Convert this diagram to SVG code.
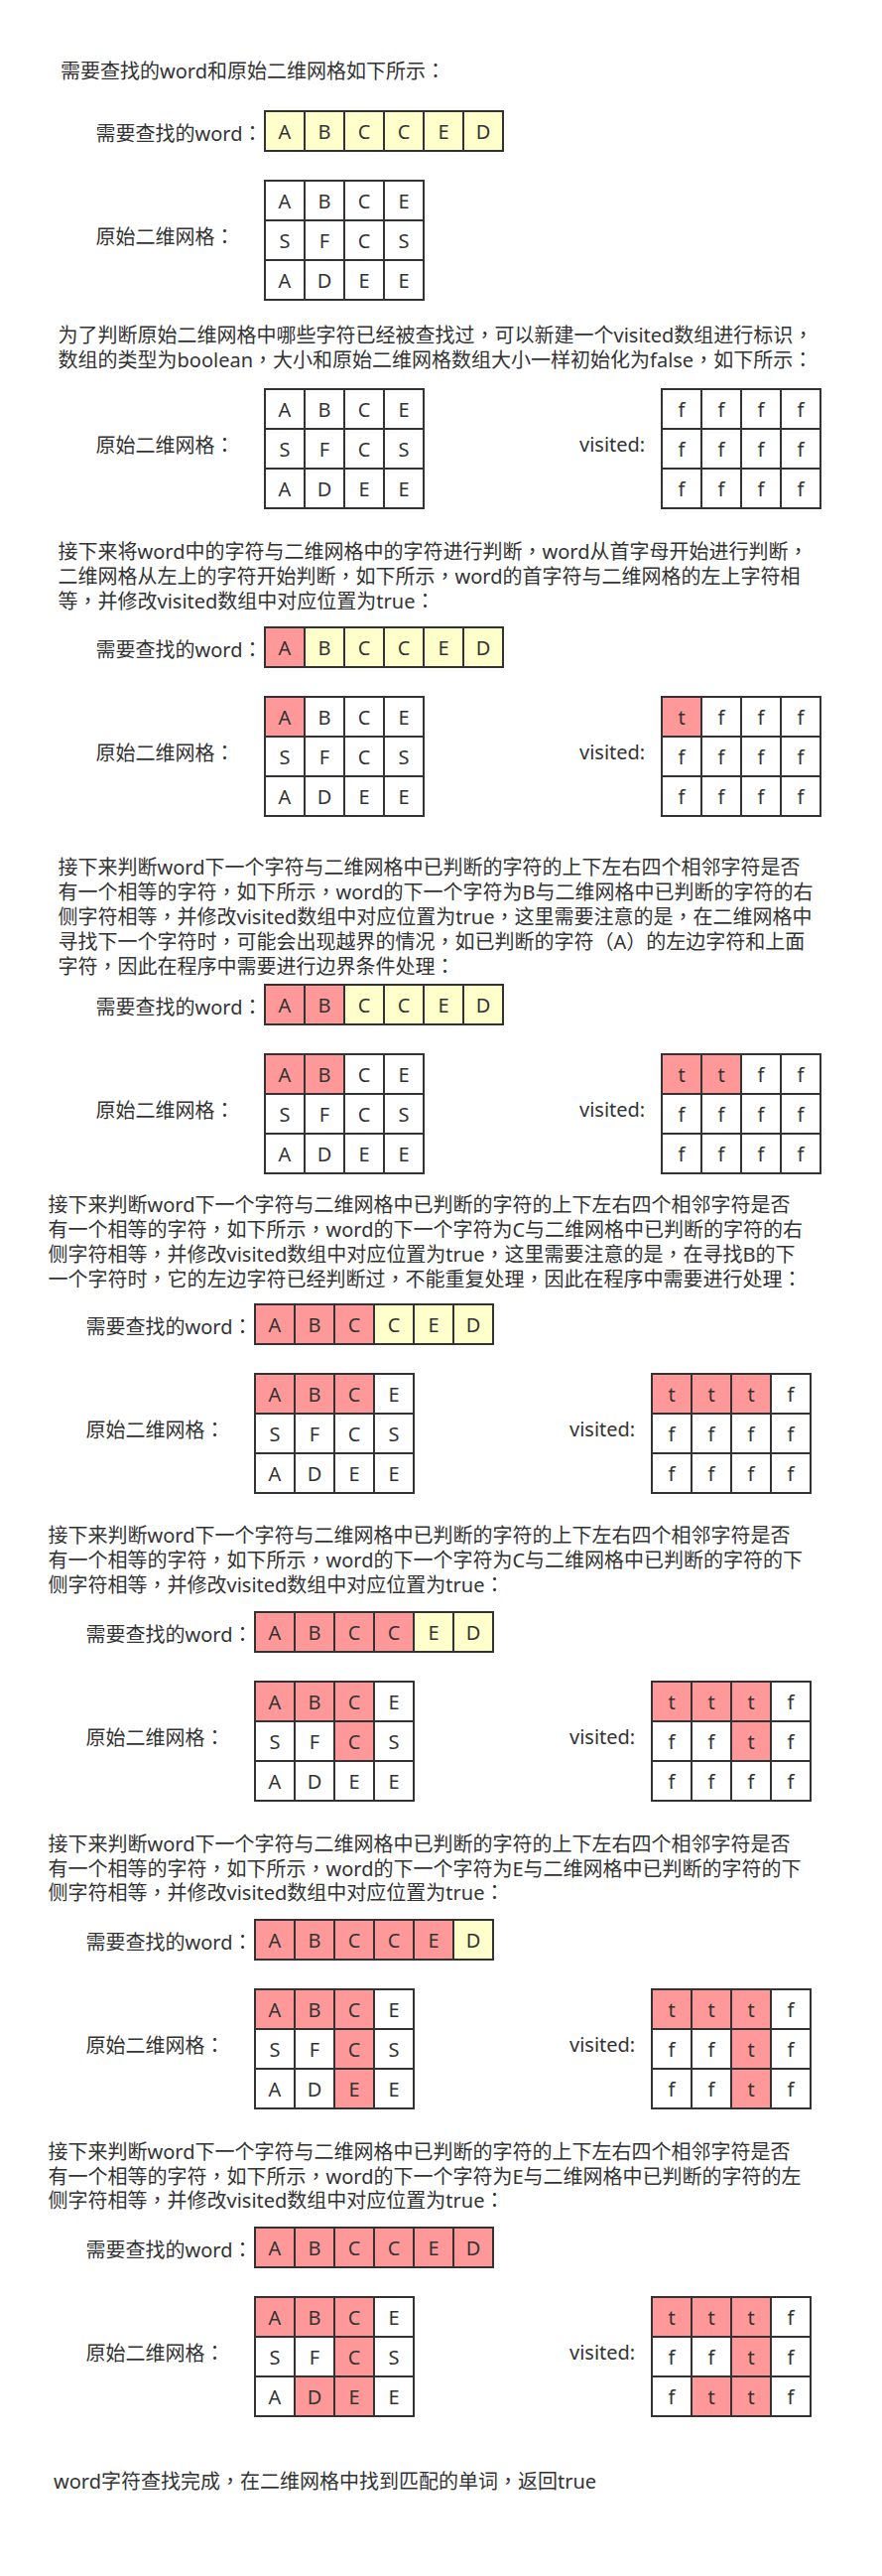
<svg xmlns="http://www.w3.org/2000/svg" width="889" height="2595" viewBox="0 0 889 2595">
<style>
text{font-family:"Noto Sans","Noto Sans CJK SC",sans-serif;font-size:20px;fill:#333}
.p{font-family:"Noto Sans CJK TC","Noto Sans CJK SC",sans-serif}
.c{text-anchor:middle}
.y,.r,.w{stroke:#333;stroke-width:2}
.y{fill:#ffffcc}.r{fill:#ff9999}.w{fill:#ffffff}
</style>
<rect x="0" y="0" width="889" height="2595" fill="#ffffff"/>

<!-- Section 1 -->
<g id="section1">
<text x="61" y="79">需要查找的word和原始二维网格如下所示<tspan class="p">：</tspan></text>
<text x="96.5" y="142">需要查找的word<tspan class="p">：</tspan></text>
<g id="s1-word" transform="translate(267,112)">
<rect class="y" x="0" y="0" width="40" height="40"/><rect class="y" x="40" y="0" width="40" height="40"/><rect class="y" x="80" y="0" width="40" height="40"/><rect class="y" x="120" y="0" width="40" height="40"/><rect class="y" x="160" y="0" width="40" height="40"/><rect class="y" x="200" y="0" width="40" height="40"/>
<text class="c" x="20" y="27.5">A</text><text class="c" x="60" y="27.5">B</text><text class="c" x="100" y="27.5">C</text><text class="c" x="140" y="27.5">C</text><text class="c" x="180" y="27.5">E</text><text class="c" x="220" y="27.5">D</text>
</g>
<text x="96.5" y="246">原始二维网格<tspan class="p">：</tspan></text>
<g id="s1-grid" transform="translate(267,182)">
<rect class="w" x="0" y="0" width="40" height="40"/><rect class="w" x="40" y="0" width="40" height="40"/><rect class="w" x="80" y="0" width="40" height="40"/><rect class="w" x="120" y="0" width="40" height="40"/>
<rect class="w" x="0" y="40" width="40" height="40"/><rect class="w" x="40" y="40" width="40" height="40"/><rect class="w" x="80" y="40" width="40" height="40"/><rect class="w" x="120" y="40" width="40" height="40"/>
<rect class="w" x="0" y="80" width="40" height="40"/><rect class="w" x="40" y="80" width="40" height="40"/><rect class="w" x="80" y="80" width="40" height="40"/><rect class="w" x="120" y="80" width="40" height="40"/>
<text class="c" x="20" y="27.5">A</text><text class="c" x="60" y="27.5">B</text><text class="c" x="100" y="27.5">C</text><text class="c" x="140" y="27.5">E</text>
<text class="c" x="20" y="67.5">S</text><text class="c" x="60" y="67.5">F</text><text class="c" x="100" y="67.5">C</text><text class="c" x="140" y="67.5">S</text>
<text class="c" x="20" y="107.5">A</text><text class="c" x="60" y="107.5">D</text><text class="c" x="100" y="107.5">E</text><text class="c" x="140" y="107.5">E</text>
</g>
</g>

<!-- Section 2 -->
<g id="section2">
<text x="58.5" y="345">为了判断原始二维网格中哪些字符已经被查找过<tspan class="p">，</tspan>可以新建一个visited数组进行标识<tspan class="p">，</tspan></text>
<text x="58.5" y="370">数组的类型为boolean<tspan class="p">，</tspan>大小和原始二维网格数组大小一样初始化为false<tspan class="p">，</tspan>如下所示<tspan class="p">：</tspan></text>
<text x="96.5" y="456">原始二维网格<tspan class="p">：</tspan></text>
<g id="s2-grid" transform="translate(267,392)">
<rect class="w" x="0" y="0" width="40" height="40"/><rect class="w" x="40" y="0" width="40" height="40"/><rect class="w" x="80" y="0" width="40" height="40"/><rect class="w" x="120" y="0" width="40" height="40"/>
<rect class="w" x="0" y="40" width="40" height="40"/><rect class="w" x="40" y="40" width="40" height="40"/><rect class="w" x="80" y="40" width="40" height="40"/><rect class="w" x="120" y="40" width="40" height="40"/>
<rect class="w" x="0" y="80" width="40" height="40"/><rect class="w" x="40" y="80" width="40" height="40"/><rect class="w" x="80" y="80" width="40" height="40"/><rect class="w" x="120" y="80" width="40" height="40"/>
<text class="c" x="20" y="27.5">A</text><text class="c" x="60" y="27.5">B</text><text class="c" x="100" y="27.5">C</text><text class="c" x="140" y="27.5">E</text>
<text class="c" x="20" y="67.5">S</text><text class="c" x="60" y="67.5">F</text><text class="c" x="100" y="67.5">C</text><text class="c" x="140" y="67.5">S</text>
<text class="c" x="20" y="107.5">A</text><text class="c" x="60" y="107.5">D</text><text class="c" x="100" y="107.5">E</text><text class="c" x="140" y="107.5">E</text>
</g>
<text x="584" y="455">visited:</text>
<g id="s2-visited" transform="translate(667,392)">
<rect class="w" x="0" y="0" width="40" height="40"/><rect class="w" x="40" y="0" width="40" height="40"/><rect class="w" x="80" y="0" width="40" height="40"/><rect class="w" x="120" y="0" width="40" height="40"/>
<rect class="w" x="0" y="40" width="40" height="40"/><rect class="w" x="40" y="40" width="40" height="40"/><rect class="w" x="80" y="40" width="40" height="40"/><rect class="w" x="120" y="40" width="40" height="40"/>
<rect class="w" x="0" y="80" width="40" height="40"/><rect class="w" x="40" y="80" width="40" height="40"/><rect class="w" x="80" y="80" width="40" height="40"/><rect class="w" x="120" y="80" width="40" height="40"/>
<text class="c" x="20" y="27.5">f</text><text class="c" x="60" y="27.5">f</text><text class="c" x="100" y="27.5">f</text><text class="c" x="140" y="27.5">f</text>
<text class="c" x="20" y="67.5">f</text><text class="c" x="60" y="67.5">f</text><text class="c" x="100" y="67.5">f</text><text class="c" x="140" y="67.5">f</text>
<text class="c" x="20" y="107.5">f</text><text class="c" x="60" y="107.5">f</text><text class="c" x="100" y="107.5">f</text><text class="c" x="140" y="107.5">f</text>
</g>
</g>

<!-- Section 3 -->
<g id="section3">
<text x="58.5" y="562.5">接下来将word中的字符与二维网格中的字符进行判断<tspan class="p">，</tspan>word从首字母开始进行判断<tspan class="p">，</tspan></text>
<text x="58.5" y="587.5">二维网格从左上的字符开始判断<tspan class="p">，</tspan>如下所示<tspan class="p">，</tspan>word的首字符与二维网格的左上字符相</text>
<text x="58.5" y="612.5">等<tspan class="p">，</tspan>并修改visited数组中对应位置为true<tspan class="p">：</tspan></text>
<text x="96.5" y="662">需要查找的word<tspan class="p">：</tspan></text>
<g id="s3-word" transform="translate(267,632)">
<rect class="r" x="0" y="0" width="40" height="40"/><rect class="y" x="40" y="0" width="40" height="40"/><rect class="y" x="80" y="0" width="40" height="40"/><rect class="y" x="120" y="0" width="40" height="40"/><rect class="y" x="160" y="0" width="40" height="40"/><rect class="y" x="200" y="0" width="40" height="40"/>
<text class="c" x="20" y="27.5">A</text><text class="c" x="60" y="27.5">B</text><text class="c" x="100" y="27.5">C</text><text class="c" x="140" y="27.5">C</text><text class="c" x="180" y="27.5">E</text><text class="c" x="220" y="27.5">D</text>
</g>
<text x="96.5" y="766">原始二维网格<tspan class="p">：</tspan></text>
<g id="s3-grid" transform="translate(267,702)">
<rect class="r" x="0" y="0" width="40" height="40"/><rect class="w" x="40" y="0" width="40" height="40"/><rect class="w" x="80" y="0" width="40" height="40"/><rect class="w" x="120" y="0" width="40" height="40"/>
<rect class="w" x="0" y="40" width="40" height="40"/><rect class="w" x="40" y="40" width="40" height="40"/><rect class="w" x="80" y="40" width="40" height="40"/><rect class="w" x="120" y="40" width="40" height="40"/>
<rect class="w" x="0" y="80" width="40" height="40"/><rect class="w" x="40" y="80" width="40" height="40"/><rect class="w" x="80" y="80" width="40" height="40"/><rect class="w" x="120" y="80" width="40" height="40"/>
<text class="c" x="20" y="27.5">A</text><text class="c" x="60" y="27.5">B</text><text class="c" x="100" y="27.5">C</text><text class="c" x="140" y="27.5">E</text>
<text class="c" x="20" y="67.5">S</text><text class="c" x="60" y="67.5">F</text><text class="c" x="100" y="67.5">C</text><text class="c" x="140" y="67.5">S</text>
<text class="c" x="20" y="107.5">A</text><text class="c" x="60" y="107.5">D</text><text class="c" x="100" y="107.5">E</text><text class="c" x="140" y="107.5">E</text>
</g>
<text x="584" y="765">visited:</text>
<g id="s3-visited" transform="translate(667,702)">
<rect class="r" x="0" y="0" width="40" height="40"/><rect class="w" x="40" y="0" width="40" height="40"/><rect class="w" x="80" y="0" width="40" height="40"/><rect class="w" x="120" y="0" width="40" height="40"/>
<rect class="w" x="0" y="40" width="40" height="40"/><rect class="w" x="40" y="40" width="40" height="40"/><rect class="w" x="80" y="40" width="40" height="40"/><rect class="w" x="120" y="40" width="40" height="40"/>
<rect class="w" x="0" y="80" width="40" height="40"/><rect class="w" x="40" y="80" width="40" height="40"/><rect class="w" x="80" y="80" width="40" height="40"/><rect class="w" x="120" y="80" width="40" height="40"/>
<text class="c" x="20" y="27.5">t</text><text class="c" x="60" y="27.5">f</text><text class="c" x="100" y="27.5">f</text><text class="c" x="140" y="27.5">f</text>
<text class="c" x="20" y="67.5">f</text><text class="c" x="60" y="67.5">f</text><text class="c" x="100" y="67.5">f</text><text class="c" x="140" y="67.5">f</text>
<text class="c" x="20" y="107.5">f</text><text class="c" x="60" y="107.5">f</text><text class="c" x="100" y="107.5">f</text><text class="c" x="140" y="107.5">f</text>
</g>
</g>

<!-- Section 4 -->
<g id="section4">
<text x="58.5" y="881">接下来判断word下一个字符与二维网格中已判断的字符的上下左右四个相邻字符是否</text>
<text x="58.5" y="906">有一个相等的字符<tspan class="p">，</tspan>如下所示<tspan class="p">，</tspan>word的下一个字符为B与二维网格中已判断的字符的右</text>
<text x="58.5" y="931">侧字符相等<tspan class="p">，</tspan>并修改visited数组中对应位置为true<tspan class="p">，</tspan>这里需要注意的是<tspan class="p">，</tspan>在二维网格中</text>
<text x="58.5" y="956">寻找下一个字符时<tspan class="p">，</tspan>可能会出现越界的情况<tspan class="p">，</tspan>如已判断的字符（A）的左边字符和上面</text>
<text x="58.5" y="981">字符<tspan class="p">，</tspan>因此在程序中需要进行边界条件处理<tspan class="p">：</tspan></text>
<text x="96.5" y="1022">需要查找的word<tspan class="p">：</tspan></text>
<g id="s4-word" transform="translate(267,992)">
<rect class="r" x="0" y="0" width="40" height="40"/><rect class="r" x="40" y="0" width="40" height="40"/><rect class="y" x="80" y="0" width="40" height="40"/><rect class="y" x="120" y="0" width="40" height="40"/><rect class="y" x="160" y="0" width="40" height="40"/><rect class="y" x="200" y="0" width="40" height="40"/>
<text class="c" x="20" y="27.5">A</text><text class="c" x="60" y="27.5">B</text><text class="c" x="100" y="27.5">C</text><text class="c" x="140" y="27.5">C</text><text class="c" x="180" y="27.5">E</text><text class="c" x="220" y="27.5">D</text>
</g>
<text x="96.5" y="1126">原始二维网格<tspan class="p">：</tspan></text>
<g id="s4-grid" transform="translate(267,1062)">
<rect class="r" x="0" y="0" width="40" height="40"/><rect class="r" x="40" y="0" width="40" height="40"/><rect class="w" x="80" y="0" width="40" height="40"/><rect class="w" x="120" y="0" width="40" height="40"/>
<rect class="w" x="0" y="40" width="40" height="40"/><rect class="w" x="40" y="40" width="40" height="40"/><rect class="w" x="80" y="40" width="40" height="40"/><rect class="w" x="120" y="40" width="40" height="40"/>
<rect class="w" x="0" y="80" width="40" height="40"/><rect class="w" x="40" y="80" width="40" height="40"/><rect class="w" x="80" y="80" width="40" height="40"/><rect class="w" x="120" y="80" width="40" height="40"/>
<text class="c" x="20" y="27.5">A</text><text class="c" x="60" y="27.5">B</text><text class="c" x="100" y="27.5">C</text><text class="c" x="140" y="27.5">E</text>
<text class="c" x="20" y="67.5">S</text><text class="c" x="60" y="67.5">F</text><text class="c" x="100" y="67.5">C</text><text class="c" x="140" y="67.5">S</text>
<text class="c" x="20" y="107.5">A</text><text class="c" x="60" y="107.5">D</text><text class="c" x="100" y="107.5">E</text><text class="c" x="140" y="107.5">E</text>
</g>
<text x="584" y="1125">visited:</text>
<g id="s4-visited" transform="translate(667,1062)">
<rect class="r" x="0" y="0" width="40" height="40"/><rect class="r" x="40" y="0" width="40" height="40"/><rect class="w" x="80" y="0" width="40" height="40"/><rect class="w" x="120" y="0" width="40" height="40"/>
<rect class="w" x="0" y="40" width="40" height="40"/><rect class="w" x="40" y="40" width="40" height="40"/><rect class="w" x="80" y="40" width="40" height="40"/><rect class="w" x="120" y="40" width="40" height="40"/>
<rect class="w" x="0" y="80" width="40" height="40"/><rect class="w" x="40" y="80" width="40" height="40"/><rect class="w" x="80" y="80" width="40" height="40"/><rect class="w" x="120" y="80" width="40" height="40"/>
<text class="c" x="20" y="27.5">t</text><text class="c" x="60" y="27.5">t</text><text class="c" x="100" y="27.5">f</text><text class="c" x="140" y="27.5">f</text>
<text class="c" x="20" y="67.5">f</text><text class="c" x="60" y="67.5">f</text><text class="c" x="100" y="67.5">f</text><text class="c" x="140" y="67.5">f</text>
<text class="c" x="20" y="107.5">f</text><text class="c" x="60" y="107.5">f</text><text class="c" x="100" y="107.5">f</text><text class="c" x="140" y="107.5">f</text>
</g>
</g>

<!-- Section 5 -->
<g id="section5">
<text x="48.5" y="1221">接下来判断word下一个字符与二维网格中已判断的字符的上下左右四个相邻字符是否</text>
<text x="48.5" y="1246">有一个相等的字符<tspan class="p">，</tspan>如下所示<tspan class="p">，</tspan>word的下一个字符为C与二维网格中已判断的字符的右</text>
<text x="48.5" y="1271">侧字符相等<tspan class="p">，</tspan>并修改visited数组中对应位置为true<tspan class="p">，</tspan>这里需要注意的是<tspan class="p">，</tspan>在寻找B的下</text>
<text x="48.5" y="1296">一个字符时<tspan class="p">，</tspan>它的左边字符已经判断过<tspan class="p">，</tspan>不能重复处理<tspan class="p">，</tspan>因此在程序中需要进行处理<tspan class="p">：</tspan></text>
<text x="86.5" y="1344">需要查找的word<tspan class="p">：</tspan></text>
<g id="s5-word" transform="translate(257,1314)">
<rect class="r" x="0" y="0" width="40" height="40"/><rect class="r" x="40" y="0" width="40" height="40"/><rect class="r" x="80" y="0" width="40" height="40"/><rect class="y" x="120" y="0" width="40" height="40"/><rect class="y" x="160" y="0" width="40" height="40"/><rect class="y" x="200" y="0" width="40" height="40"/>
<text class="c" x="20" y="27.5">A</text><text class="c" x="60" y="27.5">B</text><text class="c" x="100" y="27.5">C</text><text class="c" x="140" y="27.5">C</text><text class="c" x="180" y="27.5">E</text><text class="c" x="220" y="27.5">D</text>
</g>
<text x="86.5" y="1448">原始二维网格<tspan class="p">：</tspan></text>
<g id="s5-grid" transform="translate(257,1384)">
<rect class="r" x="0" y="0" width="40" height="40"/><rect class="r" x="40" y="0" width="40" height="40"/><rect class="r" x="80" y="0" width="40" height="40"/><rect class="w" x="120" y="0" width="40" height="40"/>
<rect class="w" x="0" y="40" width="40" height="40"/><rect class="w" x="40" y="40" width="40" height="40"/><rect class="w" x="80" y="40" width="40" height="40"/><rect class="w" x="120" y="40" width="40" height="40"/>
<rect class="w" x="0" y="80" width="40" height="40"/><rect class="w" x="40" y="80" width="40" height="40"/><rect class="w" x="80" y="80" width="40" height="40"/><rect class="w" x="120" y="80" width="40" height="40"/>
<text class="c" x="20" y="27.5">A</text><text class="c" x="60" y="27.5">B</text><text class="c" x="100" y="27.5">C</text><text class="c" x="140" y="27.5">E</text>
<text class="c" x="20" y="67.5">S</text><text class="c" x="60" y="67.5">F</text><text class="c" x="100" y="67.5">C</text><text class="c" x="140" y="67.5">S</text>
<text class="c" x="20" y="107.5">A</text><text class="c" x="60" y="107.5">D</text><text class="c" x="100" y="107.5">E</text><text class="c" x="140" y="107.5">E</text>
</g>
<text x="574" y="1447">visited:</text>
<g id="s5-visited" transform="translate(657,1384)">
<rect class="r" x="0" y="0" width="40" height="40"/><rect class="r" x="40" y="0" width="40" height="40"/><rect class="r" x="80" y="0" width="40" height="40"/><rect class="w" x="120" y="0" width="40" height="40"/>
<rect class="w" x="0" y="40" width="40" height="40"/><rect class="w" x="40" y="40" width="40" height="40"/><rect class="w" x="80" y="40" width="40" height="40"/><rect class="w" x="120" y="40" width="40" height="40"/>
<rect class="w" x="0" y="80" width="40" height="40"/><rect class="w" x="40" y="80" width="40" height="40"/><rect class="w" x="80" y="80" width="40" height="40"/><rect class="w" x="120" y="80" width="40" height="40"/>
<text class="c" x="20" y="27.5">t</text><text class="c" x="60" y="27.5">t</text><text class="c" x="100" y="27.5">t</text><text class="c" x="140" y="27.5">f</text>
<text class="c" x="20" y="67.5">f</text><text class="c" x="60" y="67.5">f</text><text class="c" x="100" y="67.5">f</text><text class="c" x="140" y="67.5">f</text>
<text class="c" x="20" y="107.5">f</text><text class="c" x="60" y="107.5">f</text><text class="c" x="100" y="107.5">f</text><text class="c" x="140" y="107.5">f</text>
</g>
</g>

<!-- Section 6 -->
<g id="section6">
<text x="48.5" y="1554">接下来判断word下一个字符与二维网格中已判断的字符的上下左右四个相邻字符是否</text>
<text x="48.5" y="1579">有一个相等的字符<tspan class="p">，</tspan>如下所示<tspan class="p">，</tspan>word的下一个字符为C与二维网格中已判断的字符的下</text>
<text x="48.5" y="1604">侧字符相等<tspan class="p">，</tspan>并修改visited数组中对应位置为true<tspan class="p">：</tspan></text>
<text x="86.5" y="1654">需要查找的word<tspan class="p">：</tspan></text>
<g id="s6-word" transform="translate(257,1624)">
<rect class="r" x="0" y="0" width="40" height="40"/><rect class="r" x="40" y="0" width="40" height="40"/><rect class="r" x="80" y="0" width="40" height="40"/><rect class="r" x="120" y="0" width="40" height="40"/><rect class="y" x="160" y="0" width="40" height="40"/><rect class="y" x="200" y="0" width="40" height="40"/>
<text class="c" x="20" y="27.5">A</text><text class="c" x="60" y="27.5">B</text><text class="c" x="100" y="27.5">C</text><text class="c" x="140" y="27.5">C</text><text class="c" x="180" y="27.5">E</text><text class="c" x="220" y="27.5">D</text>
</g>
<text x="86.5" y="1758">原始二维网格<tspan class="p">：</tspan></text>
<g id="s6-grid" transform="translate(257,1694)">
<rect class="r" x="0" y="0" width="40" height="40"/><rect class="r" x="40" y="0" width="40" height="40"/><rect class="r" x="80" y="0" width="40" height="40"/><rect class="w" x="120" y="0" width="40" height="40"/>
<rect class="w" x="0" y="40" width="40" height="40"/><rect class="w" x="40" y="40" width="40" height="40"/><rect class="r" x="80" y="40" width="40" height="40"/><rect class="w" x="120" y="40" width="40" height="40"/>
<rect class="w" x="0" y="80" width="40" height="40"/><rect class="w" x="40" y="80" width="40" height="40"/><rect class="w" x="80" y="80" width="40" height="40"/><rect class="w" x="120" y="80" width="40" height="40"/>
<text class="c" x="20" y="27.5">A</text><text class="c" x="60" y="27.5">B</text><text class="c" x="100" y="27.5">C</text><text class="c" x="140" y="27.5">E</text>
<text class="c" x="20" y="67.5">S</text><text class="c" x="60" y="67.5">F</text><text class="c" x="100" y="67.5">C</text><text class="c" x="140" y="67.5">S</text>
<text class="c" x="20" y="107.5">A</text><text class="c" x="60" y="107.5">D</text><text class="c" x="100" y="107.5">E</text><text class="c" x="140" y="107.5">E</text>
</g>
<text x="574" y="1757">visited:</text>
<g id="s6-visited" transform="translate(657,1694)">
<rect class="r" x="0" y="0" width="40" height="40"/><rect class="r" x="40" y="0" width="40" height="40"/><rect class="r" x="80" y="0" width="40" height="40"/><rect class="w" x="120" y="0" width="40" height="40"/>
<rect class="w" x="0" y="40" width="40" height="40"/><rect class="w" x="40" y="40" width="40" height="40"/><rect class="r" x="80" y="40" width="40" height="40"/><rect class="w" x="120" y="40" width="40" height="40"/>
<rect class="w" x="0" y="80" width="40" height="40"/><rect class="w" x="40" y="80" width="40" height="40"/><rect class="w" x="80" y="80" width="40" height="40"/><rect class="w" x="120" y="80" width="40" height="40"/>
<text class="c" x="20" y="27.5">t</text><text class="c" x="60" y="27.5">t</text><text class="c" x="100" y="27.5">t</text><text class="c" x="140" y="27.5">f</text>
<text class="c" x="20" y="67.5">f</text><text class="c" x="60" y="67.5">f</text><text class="c" x="100" y="67.5">t</text><text class="c" x="140" y="67.5">f</text>
<text class="c" x="20" y="107.5">f</text><text class="c" x="60" y="107.5">f</text><text class="c" x="100" y="107.5">f</text><text class="c" x="140" y="107.5">f</text>
</g>
</g>

<!-- Section 7 -->
<g id="section7">
<text x="48.5" y="1865">接下来判断word下一个字符与二维网格中已判断的字符的上下左右四个相邻字符是否</text>
<text x="48.5" y="1890">有一个相等的字符<tspan class="p">，</tspan>如下所示<tspan class="p">，</tspan>word的下一个字符为E与二维网格中已判断的字符的下</text>
<text x="48.5" y="1914">侧字符相等<tspan class="p">，</tspan>并修改visited数组中对应位置为true<tspan class="p">：</tspan></text>
<text x="86.5" y="1964">需要查找的word<tspan class="p">：</tspan></text>
<g id="s7-word" transform="translate(257,1934)">
<rect class="r" x="0" y="0" width="40" height="40"/><rect class="r" x="40" y="0" width="40" height="40"/><rect class="r" x="80" y="0" width="40" height="40"/><rect class="r" x="120" y="0" width="40" height="40"/><rect class="r" x="160" y="0" width="40" height="40"/><rect class="y" x="200" y="0" width="40" height="40"/>
<text class="c" x="20" y="27.5">A</text><text class="c" x="60" y="27.5">B</text><text class="c" x="100" y="27.5">C</text><text class="c" x="140" y="27.5">C</text><text class="c" x="180" y="27.5">E</text><text class="c" x="220" y="27.5">D</text>
</g>
<text x="86.5" y="2068">原始二维网格<tspan class="p">：</tspan></text>
<g id="s7-grid" transform="translate(257,2004)">
<rect class="r" x="0" y="0" width="40" height="40"/><rect class="r" x="40" y="0" width="40" height="40"/><rect class="r" x="80" y="0" width="40" height="40"/><rect class="w" x="120" y="0" width="40" height="40"/>
<rect class="w" x="0" y="40" width="40" height="40"/><rect class="w" x="40" y="40" width="40" height="40"/><rect class="r" x="80" y="40" width="40" height="40"/><rect class="w" x="120" y="40" width="40" height="40"/>
<rect class="w" x="0" y="80" width="40" height="40"/><rect class="w" x="40" y="80" width="40" height="40"/><rect class="r" x="80" y="80" width="40" height="40"/><rect class="w" x="120" y="80" width="40" height="40"/>
<text class="c" x="20" y="27.5">A</text><text class="c" x="60" y="27.5">B</text><text class="c" x="100" y="27.5">C</text><text class="c" x="140" y="27.5">E</text>
<text class="c" x="20" y="67.5">S</text><text class="c" x="60" y="67.5">F</text><text class="c" x="100" y="67.5">C</text><text class="c" x="140" y="67.5">S</text>
<text class="c" x="20" y="107.5">A</text><text class="c" x="60" y="107.5">D</text><text class="c" x="100" y="107.5">E</text><text class="c" x="140" y="107.5">E</text>
</g>
<text x="574" y="2067">visited:</text>
<g id="s7-visited" transform="translate(657,2004)">
<rect class="r" x="0" y="0" width="40" height="40"/><rect class="r" x="40" y="0" width="40" height="40"/><rect class="r" x="80" y="0" width="40" height="40"/><rect class="w" x="120" y="0" width="40" height="40"/>
<rect class="w" x="0" y="40" width="40" height="40"/><rect class="w" x="40" y="40" width="40" height="40"/><rect class="r" x="80" y="40" width="40" height="40"/><rect class="w" x="120" y="40" width="40" height="40"/>
<rect class="w" x="0" y="80" width="40" height="40"/><rect class="w" x="40" y="80" width="40" height="40"/><rect class="r" x="80" y="80" width="40" height="40"/><rect class="w" x="120" y="80" width="40" height="40"/>
<text class="c" x="20" y="27.5">t</text><text class="c" x="60" y="27.5">t</text><text class="c" x="100" y="27.5">t</text><text class="c" x="140" y="27.5">f</text>
<text class="c" x="20" y="67.5">f</text><text class="c" x="60" y="67.5">f</text><text class="c" x="100" y="67.5">t</text><text class="c" x="140" y="67.5">f</text>
<text class="c" x="20" y="107.5">f</text><text class="c" x="60" y="107.5">f</text><text class="c" x="100" y="107.5">t</text><text class="c" x="140" y="107.5">f</text>
</g>
</g>

<!-- Section 8 -->
<g id="section8">
<text x="48.5" y="2175">接下来判断word下一个字符与二维网格中已判断的字符的上下左右四个相邻字符是否</text>
<text x="48.5" y="2200">有一个相等的字符<tspan class="p">，</tspan>如下所示<tspan class="p">，</tspan>word的下一个字符为E与二维网格中已判断的字符的左</text>
<text x="48.5" y="2224">侧字符相等<tspan class="p">，</tspan>并修改visited数组中对应位置为true<tspan class="p">：</tspan></text>
<text x="86.5" y="2274">需要查找的word<tspan class="p">：</tspan></text>
<g id="s8-word" transform="translate(257,2244)">
<rect class="r" x="0" y="0" width="40" height="40"/><rect class="r" x="40" y="0" width="40" height="40"/><rect class="r" x="80" y="0" width="40" height="40"/><rect class="r" x="120" y="0" width="40" height="40"/><rect class="r" x="160" y="0" width="40" height="40"/><rect class="r" x="200" y="0" width="40" height="40"/>
<text class="c" x="20" y="27.5">A</text><text class="c" x="60" y="27.5">B</text><text class="c" x="100" y="27.5">C</text><text class="c" x="140" y="27.5">C</text><text class="c" x="180" y="27.5">E</text><text class="c" x="220" y="27.5">D</text>
</g>
<text x="86.5" y="2378">原始二维网格<tspan class="p">：</tspan></text>
<g id="s8-grid" transform="translate(257,2314)">
<rect class="r" x="0" y="0" width="40" height="40"/><rect class="r" x="40" y="0" width="40" height="40"/><rect class="r" x="80" y="0" width="40" height="40"/><rect class="w" x="120" y="0" width="40" height="40"/>
<rect class="w" x="0" y="40" width="40" height="40"/><rect class="w" x="40" y="40" width="40" height="40"/><rect class="r" x="80" y="40" width="40" height="40"/><rect class="w" x="120" y="40" width="40" height="40"/>
<rect class="w" x="0" y="80" width="40" height="40"/><rect class="r" x="40" y="80" width="40" height="40"/><rect class="r" x="80" y="80" width="40" height="40"/><rect class="w" x="120" y="80" width="40" height="40"/>
<text class="c" x="20" y="27.5">A</text><text class="c" x="60" y="27.5">B</text><text class="c" x="100" y="27.5">C</text><text class="c" x="140" y="27.5">E</text>
<text class="c" x="20" y="67.5">S</text><text class="c" x="60" y="67.5">F</text><text class="c" x="100" y="67.5">C</text><text class="c" x="140" y="67.5">S</text>
<text class="c" x="20" y="107.5">A</text><text class="c" x="60" y="107.5">D</text><text class="c" x="100" y="107.5">E</text><text class="c" x="140" y="107.5">E</text>
</g>
<text x="574" y="2377">visited:</text>
<g id="s8-visited" transform="translate(657,2314)">
<rect class="r" x="0" y="0" width="40" height="40"/><rect class="r" x="40" y="0" width="40" height="40"/><rect class="r" x="80" y="0" width="40" height="40"/><rect class="w" x="120" y="0" width="40" height="40"/>
<rect class="w" x="0" y="40" width="40" height="40"/><rect class="w" x="40" y="40" width="40" height="40"/><rect class="r" x="80" y="40" width="40" height="40"/><rect class="w" x="120" y="40" width="40" height="40"/>
<rect class="w" x="0" y="80" width="40" height="40"/><rect class="r" x="40" y="80" width="40" height="40"/><rect class="r" x="80" y="80" width="40" height="40"/><rect class="w" x="120" y="80" width="40" height="40"/>
<text class="c" x="20" y="27.5">t</text><text class="c" x="60" y="27.5">t</text><text class="c" x="100" y="27.5">t</text><text class="c" x="140" y="27.5">f</text>
<text class="c" x="20" y="67.5">f</text><text class="c" x="60" y="67.5">f</text><text class="c" x="100" y="67.5">t</text><text class="c" x="140" y="67.5">f</text>
<text class="c" x="20" y="107.5">f</text><text class="c" x="60" y="107.5">t</text><text class="c" x="100" y="107.5">t</text><text class="c" x="140" y="107.5">f</text>
</g>
</g>

<g id="conclusion">
<text x="54" y="2507">word字符查找完成<tspan class="p">，</tspan>在二维网格中找到匹配的单词<tspan class="p">，</tspan>返回true</text>
</g>
</svg>
